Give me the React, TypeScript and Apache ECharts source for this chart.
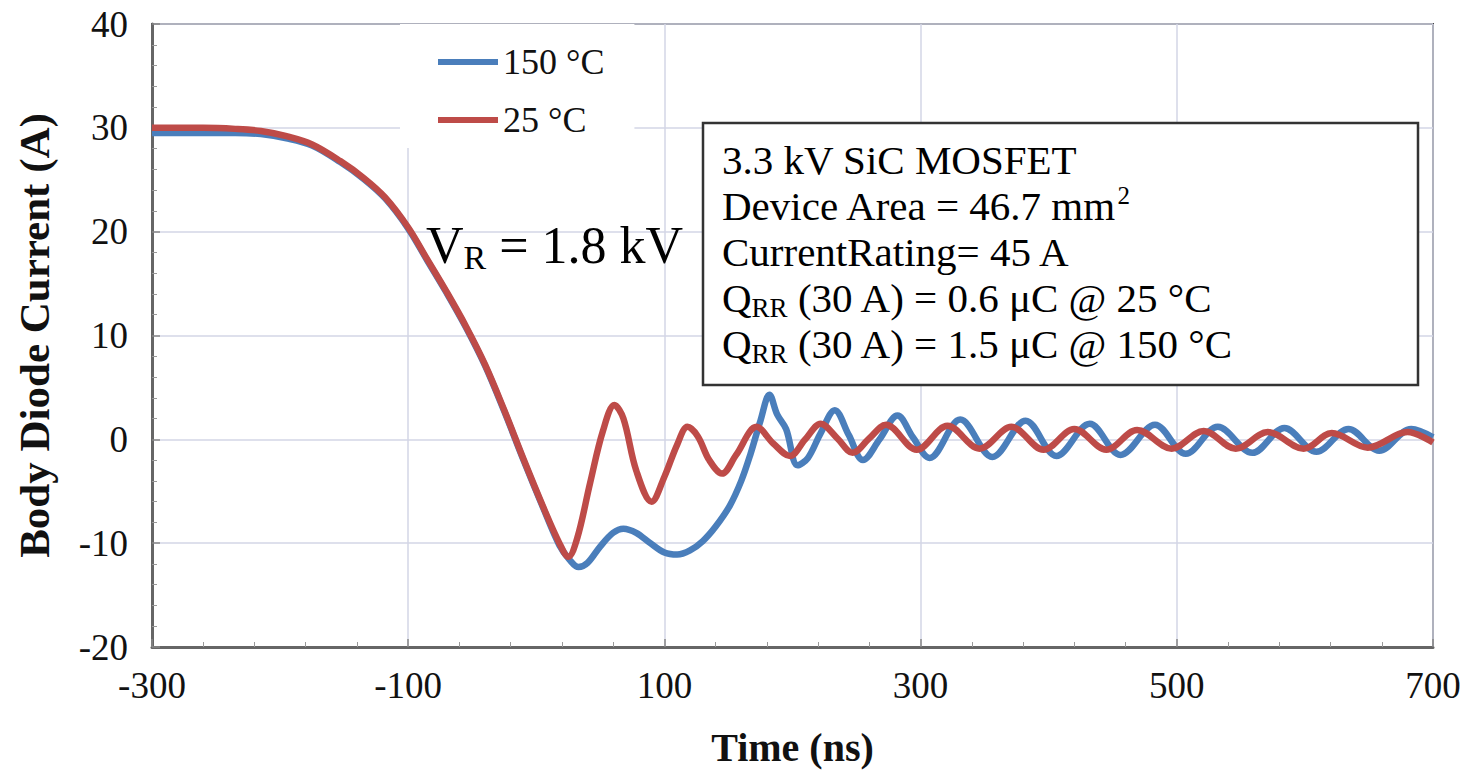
import React, { useEffect, useRef } from 'react';
import * as echarts from 'echarts';

const FONT = '"Times New Roman", "Liberation Serif", "DejaVu Serif", serif';

const seriesNames = ['150 °C', '25 °C'];
const seriesColors = ['#4a7ebb', '#be4b48'];

const time150 = [-300, -260, -235, -215, -195, -175, -153, -135, -118, -100, -85, -70, -55, -40, -25, -10, 5, 18, 26, 33, 40, 50, 60, 68, 78, 89, 100, 110, 120, 130, 140, 151, 160, 167, 175, 182, 188, 195, 204, 212, 222, 233, 244, 255, 268, 282, 294, 307, 331, 356, 382, 406, 432, 456, 483, 507, 532, 559, 584, 609, 634, 658, 683, 700];
const current150 = [29.5, 29.5, 29.5, 29.4, 29.0, 28.3, 26.7, 25.1, 23.2, 20.3, 17.2, 14.1, 10.8, 7.1, 2.7, -2.0, -6.5, -10.2, -11.6, -12.3, -11.9, -10.3, -9.0, -8.6, -9.0, -10.0, -10.9, -11.1, -10.7, -9.8, -8.4, -6.4, -4.0, -1.5, 1.8, 4.3, 2.4, 1.0, -2.5, -1.8, 0.6, 2.8, 0.4, -2.0, 0.0, 2.3, 0.2, -1.8, 1.9, -1.7, 1.8, -1.6, 1.5, -1.5, 1.4, -1.4, 1.2, -1.3, 1.1, -1.2, 1.0, -1.1, 1.0, 0.2];

const time25 = [-300, -260, -235, -215, -195, -175, -153, -135, -118, -100, -85, -70, -55, -40, -25, -10, 5, 18, 25, 32, 42, 52, 61, 68, 78, 90, 100, 110, 118, 126, 135, 145, 156, 172, 185, 198, 210, 222, 235, 247, 260, 273, 297, 321, 346, 371, 396, 420, 445, 469, 496, 521, 546, 571, 599, 621, 649, 680, 700];
const current25 = [30.0, 30.0, 29.9, 29.7, 29.2, 28.4, 26.8, 25.2, 23.3, 20.4, 17.3, 14.2, 10.9, 7.2, 2.8, -1.9, -6.4, -10.0, -11.3, -9.5, -4.2, 0.8, 3.3, 2.0, -3.0, -6.0, -3.6, -0.5, 1.2, 0.3, -2.0, -3.3, -1.5, 1.2, -0.4, -1.6, 0.0, 1.5, 0.1, -1.3, 0.1, 1.4, -1.0, 1.3, -0.9, 1.2, -1.0, 1.0, -1.0, 0.9, -0.9, 0.8, -0.9, 0.7, -0.9, 0.6, -0.8, 0.7, -0.3];

const boxLines = [
  '{n|3.3 kV SiC MOSFET}',
  '{n|Device Area = 46.7 mm}{sup|2}',
  '{n|CurrentRating= 45 A}',
  '{n|Q}{sub|RR}{n| (30 A) = 0.6 μC @ 25 °C}',
  '{n|Q}{sub|RR}{n| (30 A) = 1.5 μC @ 150 °C}',
];

export default function App() {
  const ref = useRef<HTMLDivElement>(null);
  useEffect(() => {
    const chart = echarts.init(ref.current!, null, { renderer: 'svg' });
    const axisCommon = {
      axisLine: { show: true, onZero: false, lineStyle: { color: '#666', width: 3 } },
      axisTick: { show: true, inside: true, length: 8, lineStyle: { color: '#888', width: 1.5 } },
      minorTick: { show: true, splitNumber: 5, length: 5, lineStyle: { color: '#999', width: 1 } },
      splitLine: { show: true, lineStyle: { color: '#d3d6e6', width: 1.5 } },
      axisLabel: { color: '#111', fontSize: 37, fontFamily: FONT },
      nameLocation: 'middle' as const,
      nameTextStyle: { color: '#111', fontSize: 43, fontWeight: 'bold' as const, fontFamily: FONT },
    };
    const richN = { fontSize: 41, lineHeight: 46, fontFamily: FONT, color: '#111' };
    const richSub = { fontSize: 27, lineHeight: 27, fontFamily: FONT, color: '#111', verticalAlign: 'bottom' };
    const richSup = { fontSize: 25, lineHeight: 25, fontFamily: FONT, color: '#111', verticalAlign: 'top' };
    chart.setOption({
      animation: false,
      backgroundColor: '#fff',
      grid: { left: 152, right: 34, top: 24, bottom: 126, show: true, borderColor: '#444', borderWidth: 2, containLabel: false },
      xAxis: {
        type: 'value', min: -300, max: 700, interval: 200,
        name: 'Time (ns)', nameGap: 80,
        ...axisCommon,
        nameTextStyle: { ...axisCommon.nameTextStyle, fontSize: 40 },
        axisLabel: { ...axisCommon.axisLabel, margin: 20, showMinLabel: true, showMaxLabel: true },
      },
      yAxis: {
        type: 'value', min: -20, max: 40, interval: 10,
        name: 'Body Diode Current (A)', nameGap: 96,
        ...axisCommon,
        axisLabel: { ...axisCommon.axisLabel, margin: 24 },
      },
      legend: {
        data: seriesNames,
        orient: 'vertical',
        left: 400, top: 24,
        padding: [20, 30, 10, 38],
        backgroundColor: '#fff',
        icon: 'rect',
        itemWidth: 60, itemHeight: 6, itemGap: 22,
        textStyle: { fontSize: 36, fontFamily: FONT, color: '#111' },
      },
      series: [
        {
          name: seriesNames[0], type: 'line', showSymbol: false, smooth: 0.35,
          lineStyle: { color: seriesColors[0], width: 6.5 }, itemStyle: { color: seriesColors[0] },
          data: time150.map((t, i) => [t, current150[i]]), z: 2,
        },
        {
          name: seriesNames[1], type: 'line', showSymbol: false, smooth: 0.35,
          lineStyle: { color: seriesColors[1], width: 6.5 }, itemStyle: { color: seriesColors[1] },
          data: time25.map((t, i) => [t, current25[i]]), z: 3,
        },
      ],
      graphic: [
        {
          type: 'rect', z: 10,
          shape: { x: 703, y: 123, width: 715, height: 262 },
          style: { fill: '#fff', stroke: '#333', lineWidth: 2.5 },
        },
        ...boxLines.map((txt, i) => ({
          type: 'text', z: 11, x: 722, y: 160 + i * 46,
          style: {
            text: txt, verticalAlign: 'middle', align: 'left',
            rich: { n: richN, sub: richSub, sup: richSup },
          },
        })),
        {
          type: 'text', z: 11, x: 426, y: 245,
          style: {
            text: '{v|V}{s|R}{v| = 1.8 kV}', verticalAlign: 'middle', align: 'left',
            rich: {
              v: { fontSize: 52, lineHeight: 58, fontFamily: FONT, color: '#222' },
              s: { fontSize: 34, lineHeight: 34, fontFamily: FONT, color: '#222', verticalAlign: 'bottom' },
            },
          },
        },
      ],
    });
    return () => chart.dispose();
  }, []);
  return <div ref={ref} style={{ position: 'fixed', left: 0, top: 0, width: 1467, height: 773, background: '#fff' }} />;
}
